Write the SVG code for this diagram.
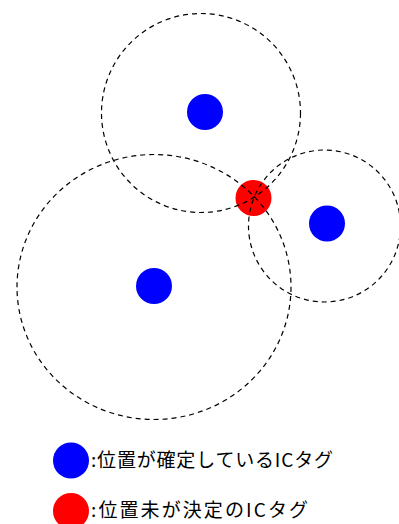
<svg xmlns="http://www.w3.org/2000/svg" width="399" height="524" viewBox="0 0 399 524">
<style>
.range{fill:none;stroke:#000;stroke-width:1.2;stroke-dasharray:5 4}
.known{fill:#0000ff}
.unknown{fill:#ff0000}
.lbl{font-family:"Noto Sans CJK JP","Noto Sans",sans-serif;font-size:19px;fill:#000}
</style>
<rect width="399" height="524" fill="#fff"/>
<g id="tag-top"><circle class="known" cx="205" cy="112" r="18"/></g>
<g id="tag-right"><circle class="known" cx="327" cy="223.5" r="18"/></g>
<g id="tag-left"><circle class="known" cx="154" cy="286" r="18"/></g>
<g id="tag-unknown"><circle class="unknown" cx="253.5" cy="198" r="18"/></g>
<g id="ranges">
<circle class="range" cx="201" cy="113" r="99.5"/>
<ellipse class="range" cx="154" cy="287" rx="137" ry="132.5"/>
<circle class="range" cx="324.5" cy="226" r="76"/>
</g>
<g id="legend-known">
<circle class="known" cx="71" cy="460.5" r="18"/>
<text class="lbl" x="91" y="467" textLength="242" lengthAdjust="spacing">:位置が確定しているICタグ</text>
</g>
<g id="legend-unknown">
<circle class="unknown" cx="71" cy="511" r="18"/>
<text class="lbl" x="91" y="517" textLength="217" lengthAdjust="spacing">:位置未が決定のICタグ</text>
</g>
</svg>
